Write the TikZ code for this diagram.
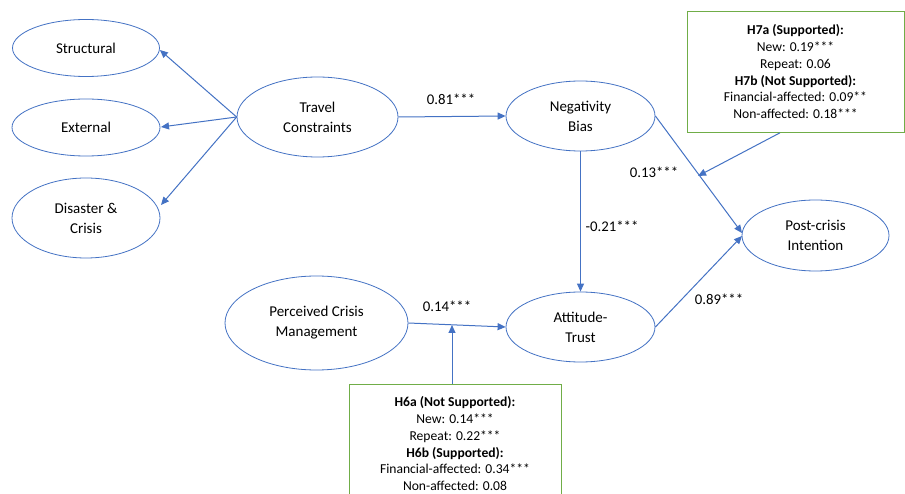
\documentclass[tikz,border=0pt]{standalone}
\usepackage{fontspec}
\setmainfont{Carlito}
\usetikzlibrary{arrows.meta,shapes.geometric}
\definecolor{ublue}{HTML}{4472C4}
\definecolor{ugreen}{HTML}{70AD47}
\tikzset{
  construct/.style={ellipse, draw=ublue, line width=0.8pt, align=center, inner sep=0pt,
    font=\fontsize{15}{20}\selectfont},
  link/.style={draw=ublue, line width=1pt, -{Triangle[length=8pt,width=7pt]}},
  coef/.style={font=\fontsize{14.8}{16}\selectfont},
  notebox/.style={draw=ugreen, line width=0.8pt, anchor=north west},
  notetext/.style={align=center, font=\fontsize{13.6}{16.8}\selectfont, anchor=north}
}
\begin{document}
\begin{tikzpicture}[x=1pt,y=-1pt]
\useasboundingbox (0,0) rectangle (905,494);
\fill[white] (0,0) rectangle (905,494);
% constructs
\node[construct, minimum width=147pt, minimum height=57pt] (str) at (86,48) {Structural};
\node[construct, minimum width=148pt, minimum height=57pt] (ext) at (86,127.5) {External};
\node[construct, minimum width=148pt, minimum height=80pt] (dis) at (86,218) {Disaster \&\\Crisis};
\node[construct, minimum width=161pt, minimum height=80pt] (tc) at (317.5,117) {Travel\\Constraints};
\node[construct, minimum width=149pt, minimum height=70pt] (nb) at (580.5,116) {Negativity\\Bias};
\node[construct, minimum width=149pt, minimum height=70pt] (at) at (580.5,327) {Attitude-\\Trust};
\node[construct, minimum width=183pt, minimum height=94pt] (pcm) at (316.5,323) {Perceived Crisis\\Management};
\node[construct, minimum width=147pt, minimum height=71pt] (pci) at (815.5,235.5) {Post-crisis\\Intention};
% note boxes
\node[notebox, minimum width=217pt, minimum height=121pt] (h7) at (687,11) {};
\node[notetext] (h7t) at (795.5,21) {\textbf{H7a (Supported):}\\New: 0.19***\\Repeat: 0.06\\\textbf{H7b (Not Supported):}\\Financial-affected: 0.09**\\Non-affected: 0.18***};
\node[notebox, minimum width=212pt, minimum height=130pt] (h6) at (349,384) {};
\node[notetext] (h6t) at (455,393) {\textbf{H6a (Not Supported):}\\New: 0.14***\\Repeat: 0.22***\\\textbf{H6b (Supported):}\\Financial-affected: 0.34***\\Non-affected: 0.08};
% paths
\draw[link] (tc.west) -- (str.east |- 0,50);
\draw[link] (tc.west) -- (161,127);
\draw[link] (tc.west) -- (161,205);
\draw[link] (tc.east) -- (nb.west);
\draw[link] (nb.south) -- (at.north);
\draw[link] (nb.east) -- (742,233) coordinate (pcin);
\draw[link] (at.east) -- (742,236) coordinate (pcin2);
\draw[link] (pcm.east) -- (at.west);
\coordinate (m6) at (452,325);
\draw[link] (h6.north -| m6) -- (m6);
\coordinate (m7) at (698,176);
\draw[link] (h7.south -| 780,0) -- (m7);
% coefficients
\node[coef] (c1) at (451,99) {0.81***};
\node[coef] (c2) at (612,226) {-0.21***};
\node[coef] (c3) at (654,172) {0.13***};
\node[coef] (c4) at (719,299) {0.89***};
\node[coef] (c5) at (447,306) {0.14***};
\end{tikzpicture}
\end{document}
